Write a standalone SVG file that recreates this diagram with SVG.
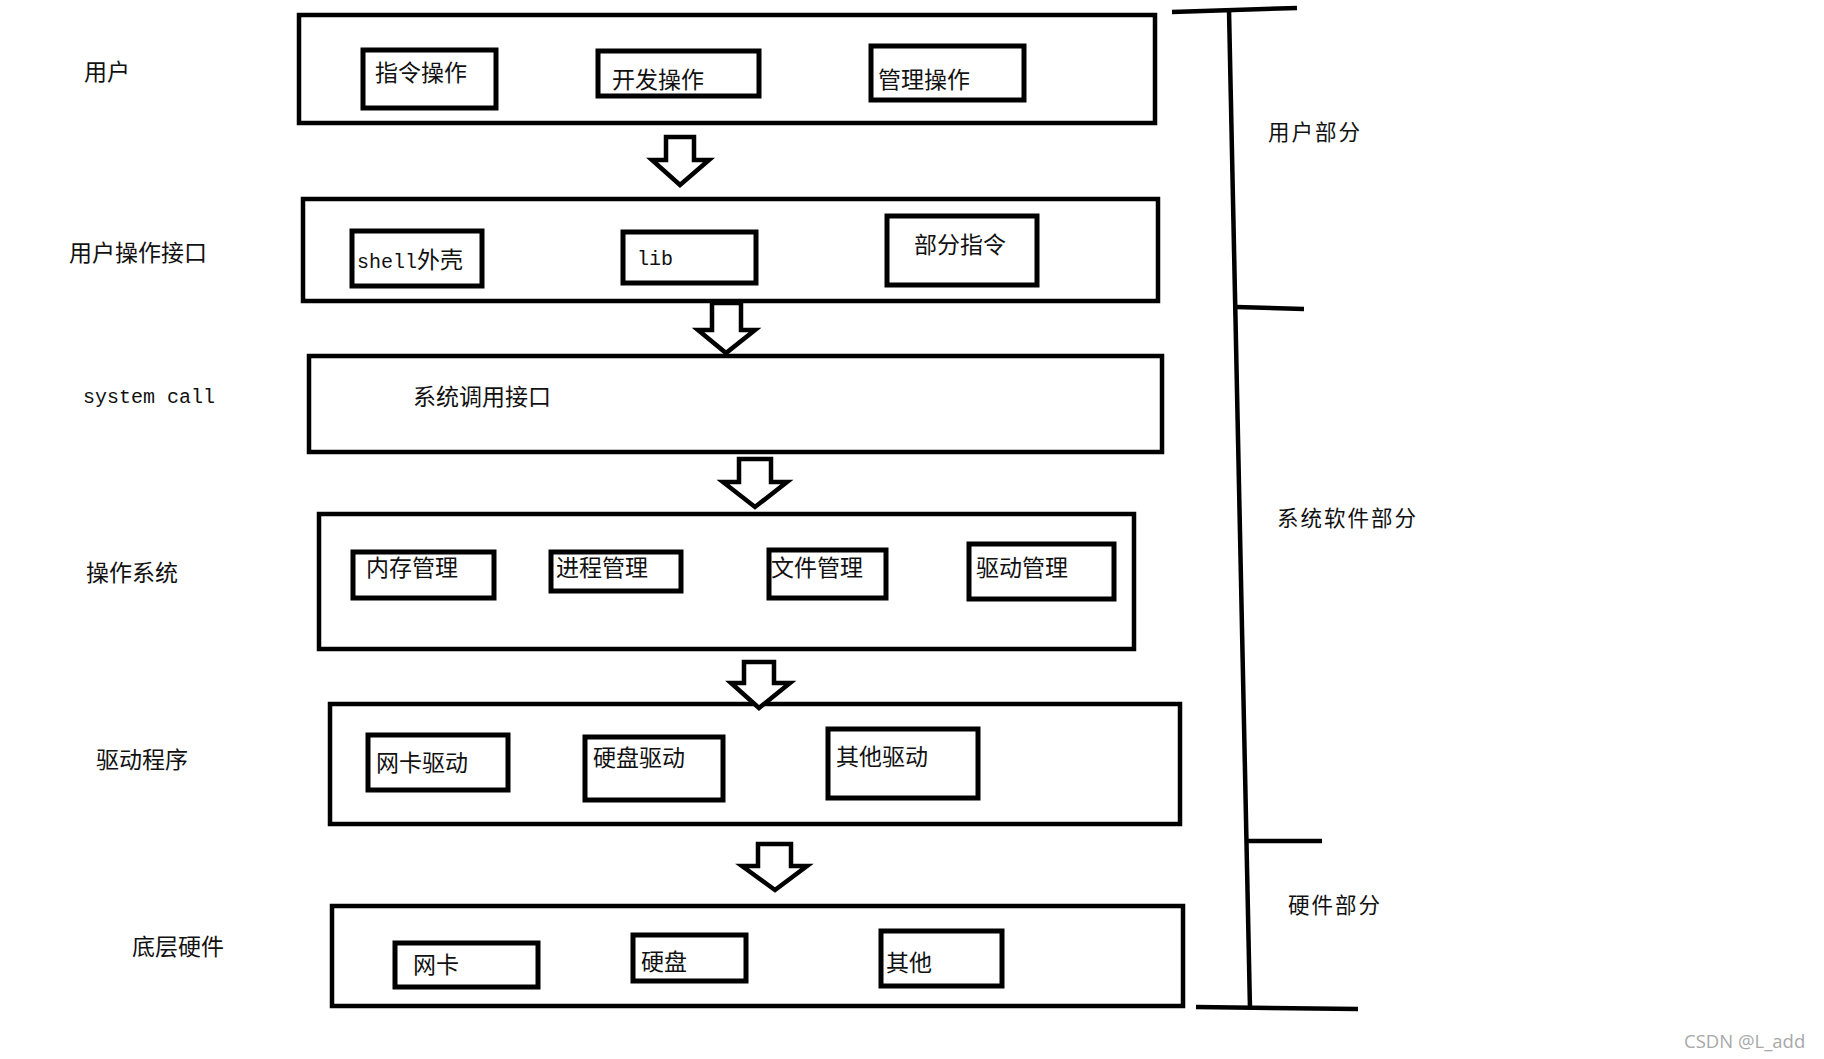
<svg xmlns="http://www.w3.org/2000/svg" width="1824" height="1059" viewBox="0 0 1824 1059">
<style>
.outer{fill:none;stroke:#000;stroke-width:4.5}
.inner{fill:none;stroke:#000;stroke-width:5}
.t{font-family:"Liberation Mono","Noto Sans CJK SC",monospace;font-size:23px;fill:#111}
.m{font-family:"Liberation Mono",monospace;font-size:20px}
.c{font-family:"Noto Sans CJK SC","Liberation Sans",sans-serif;font-size:23px}
.r{font-family:"Noto Sans CJK SC",sans-serif;font-size:21.5px;letter-spacing:2px;fill:#111}
.arrow{fill:#fff;stroke:#000;stroke-width:4.5;stroke-linejoin:miter}
.bl{stroke:#000;stroke-width:4.5;fill:none;stroke-linecap:butt}
</style>
<rect width="1824" height="1059" fill="#fff"/>

<g id="labels">
<text class="t c" x="84" y="80">用户</text>
<text class="t c" x="69" y="261">用户操作接口</text>
<text class="t m" x="83" y="403">system call</text>
<text class="t c" x="86" y="581">操作系统</text>
<text class="t c" x="96" y="768">驱动程序</text>
<text class="t c" x="132" y="955">底层硬件</text>
</g>

<g id="layer-user">
<rect class="outer" x="299" y="15" width="856" height="108"/>
<g id="n-zhiling"><rect class="inner" x="363" y="50" width="133" height="58"/><text class="t c" x="375" y="81">指令操作</text></g>
<g id="n-kaifa"><rect class="inner" x="598" y="51" width="161" height="45"/><text class="t c" x="612" y="88">开发操作</text></g>
<g id="n-guanli"><rect class="inner" x="871" y="46" width="153" height="54"/><text class="t c" x="878" y="88">管理操作</text></g>
</g>

<g id="layer-uif">
<rect class="outer" x="303" y="199" width="855" height="102"/>
<g id="n-shell"><rect class="inner" x="352" y="231" width="130" height="55"/><text class="t" x="357" y="268"><tspan class="m">shell</tspan><tspan class="c">外壳</tspan></text></g>
<g id="n-lib"><rect class="inner" x="623" y="232" width="133" height="51"/><text class="t m" x="637" y="265">lib</text></g>
<g id="n-bufen"><rect class="inner" x="887" y="216" width="150" height="69"/><text class="t c" x="914" y="253">部分指令</text></g>
</g>

<g id="layer-syscall">
<rect class="outer" x="309" y="356" width="853" height="96"/>
<text class="t c" x="413" y="405">系统调用接口</text>
</g>

<g id="layer-os">
<rect class="outer" x="319" y="514" width="815" height="135"/>
<g id="n-mem"><rect class="inner" x="353" y="552" width="141" height="46"/><text class="t c" x="366" y="576">内存管理</text></g>
<g id="n-proc"><rect class="inner" x="551" y="552" width="130" height="39"/><text class="t c" x="556" y="576">进程管理</text></g>
<g id="n-file"><rect class="inner" x="769" y="550" width="117" height="48"/><text class="t c" x="771" y="576">文件管理</text></g>
<g id="n-drv"><rect class="inner" x="969" y="544" width="145" height="55"/><text class="t c" x="976" y="576">驱动管理</text></g>
</g>

<g id="layer-driver">
<rect class="outer" x="330" y="704" width="850" height="120"/>
<g id="n-nicdrv"><rect class="inner" x="368" y="735" width="140" height="55"/><text class="t c" x="376" y="771">网卡驱动</text></g>
<g id="n-hddrv"><rect class="inner" x="585" y="737" width="138" height="63"/><text class="t c" x="593" y="766">硬盘驱动</text></g>
<g id="n-otherdrv"><rect class="inner" x="828" y="729" width="150" height="69"/><text class="t c" x="836" y="765">其他驱动</text></g>
</g>

<g id="layer-hw">
<rect class="outer" x="332" y="906" width="851" height="100"/>
<g id="n-nic"><rect class="inner" x="395" y="943" width="143" height="44"/><text class="t c" x="413" y="973">网卡</text></g>
<g id="n-hd"><rect class="inner" x="633" y="935" width="113" height="46"/><text class="t c" x="641" y="970">硬盘</text></g>
<g id="n-other"><rect class="inner" x="881" y="931" width="121" height="55"/><text class="t c" x="886" y="971">其他</text></g>
</g>

<g id="connectors">
<path class="arrow" d="M666,137 H694 V160 H709 L680,185 L652,160 H666 Z"/>
<path class="arrow" d="M712,303 H741 V330 H755 L726,353 L698,330 H712 Z"/>
<path class="arrow" d="M739,459 H771 V482 H787 L755,507 L723,482 H739 Z"/>
<path class="arrow" d="M744,662 H774 V683 H790 L759,708 L731,683 H744 Z"/>
<path class="arrow" d="M758,844 H791 V866 H807 L775,890 L742,866 H758 Z"/>
<line class="bl" x1="1172" y1="12" x2="1297" y2="8"/>
<line class="bl" x1="1229" y1="10" x2="1250" y2="1009" stroke-width="5"/>
<line class="bl" x1="1236" y1="307" x2="1304" y2="309"/>
<line class="bl" x1="1248" y1="841" x2="1322" y2="841"/>
<line class="bl" x1="1196" y1="1007" x2="1358" y2="1009"/>
</g>

<g id="section-labels">
<text class="r" x="1268" y="140">用户部分</text>
<text class="r" x="1277" y="526">系统软件部分</text>
<text class="r" x="1288" y="913">硬件部分</text>
</g>

<text x="1684" y="1048" font-family="'Open Sans','Noto Sans',sans-serif" font-size="18.5" fill="#a8a8a8">CSDN @L_add</text>
</svg>
